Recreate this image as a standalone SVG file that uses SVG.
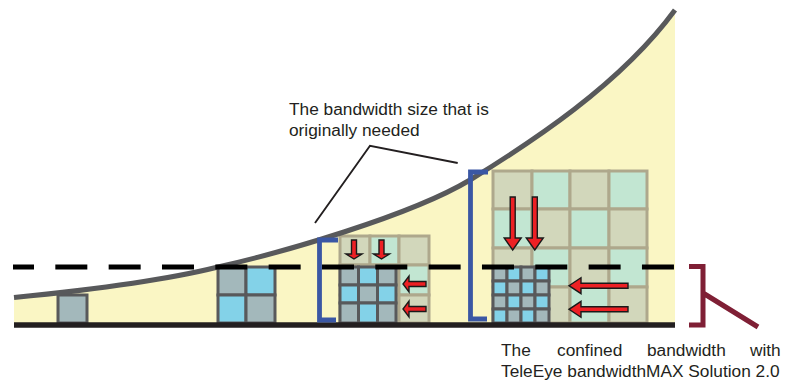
<svg xmlns="http://www.w3.org/2000/svg" width="798" height="381" viewBox="0 0 798 381">
<style>
text{font-family:"Liberation Sans",Arial,sans-serif;font-size:17.300px;fill:#231f20}
.d{fill:#a3b8bb;stroke:#58595b;stroke-width:3}
.b{fill:#83d2e8;stroke:#58595b;stroke-width:3}
.s{fill:#d2d7bb;stroke:#aea88c;stroke-width:3}
.g{fill:#c2e6d2;stroke:#aea88c;stroke-width:3}
.blue{fill:none;stroke:#3a57a4;stroke-width:4.800}
.ar{fill:#ed2024;stroke:#1a1a1a;stroke-width:1.400}
</style>
<defs>
<path id="bigDown" class="ar" d="M-2.500 -53H2.500V-12H8.500L0 0L-8.500 -12H-2.500Z"/>
<path id="smallDown" class="ar" d="M-2.500 -19H2.500V-5H8L0 0L-8 -5H-2.500Z"/>
<path id="bigLeft" class="ar" d="M59 -2.500V2.500H12V8L0 0L12 -8V-2.500Z"/>
<path id="smallLeft" class="ar" d="M23 -2.500V2.500H6V8L0 0L6 -8V-2.500Z"/>
</defs>
<path id="area" fill="#faf6c4" d="M14 297.500C90 290 170 279 218 267C280 253 410 216 470 180C530 143 620 85 675 10V325H14Z"/>
<g id="node-small">
<rect class="d" x="58" y="295" width="29" height="28"/>
</g>
<g id="node-medium">
<rect class="d" x="218" y="267" width="28" height="28"/><rect class="b" x="246" y="267" width="29" height="28"/>
<rect class="b" x="218" y="295" width="28" height="28"/><rect class="d" x="246" y="295" width="29" height="28"/>
</g>
<g id="node-large-original">
<rect class="s" x="340" y="236" width="30" height="29"/><rect class="g" x="370" y="236" width="29" height="29"/><rect class="s" x="399" y="236" width="30" height="29"/>
<rect class="s" x="340" y="265" width="30" height="30"/><rect class="s" x="370" y="265" width="29" height="30"/><rect class="g" x="399" y="265" width="30" height="30"/>
<rect class="s" x="340" y="295" width="30" height="28"/><rect class="s" x="370" y="295" width="29" height="28"/><rect class="s" x="399" y="295" width="30" height="28"/>
</g>
<g id="node-large-confined">
<rect class="d" x="340" y="267" width="18.500" height="18"/><rect class="b" x="358.500" y="267" width="19" height="18"/><rect class="d" x="377.500" y="267" width="18.500" height="18"/>
<rect class="b" x="340" y="285" width="18.500" height="18"/><rect class="d" x="358.500" y="285" width="19" height="18"/><rect class="b" x="377.500" y="285" width="18.500" height="18"/>
<rect class="d" x="340" y="303" width="18.500" height="20"/><rect class="b" x="358.500" y="303" width="19" height="20"/><rect class="d" x="377.500" y="303" width="18.500" height="20"/>
</g>
<g id="node-largest-original">
<rect class="s" x="493" y="171" width="39" height="38"/><rect class="g" x="532" y="171" width="38" height="38"/><rect class="s" x="570" y="171" width="39" height="38"/><rect class="g" x="609" y="171" width="38" height="38"/>
<rect class="g" x="493" y="209" width="39" height="39"/><rect class="s" x="532" y="209" width="38" height="39"/><rect class="g" x="570" y="209" width="39" height="39"/><rect class="s" x="609" y="209" width="38" height="39"/>
<rect class="s" x="493" y="248" width="39" height="39"/><rect class="g" x="532" y="248" width="38" height="39"/><rect class="s" x="570" y="248" width="39" height="39"/><rect class="g" x="609" y="248" width="38" height="39"/>
<rect class="g" x="493" y="287" width="39" height="36"/><rect class="s" x="532" y="287" width="38" height="36"/><rect class="g" x="570" y="287" width="39" height="36"/><rect class="s" x="609" y="287" width="38" height="36"/>
</g>
<g id="node-largest-confined">
<rect class="d" x="493" y="267" width="14" height="14"/><rect class="b" x="507" y="267" width="14" height="14"/><rect class="d" x="521" y="267" width="14" height="14"/><rect class="b" x="535" y="267" width="14" height="14"/>
<rect class="b" x="493" y="281" width="14" height="14"/><rect class="d" x="507" y="281" width="14" height="14"/><rect class="b" x="521" y="281" width="14" height="14"/><rect class="d" x="535" y="281" width="14" height="14"/>
<rect class="d" x="493" y="295" width="14" height="14"/><rect class="b" x="507" y="295" width="14" height="14"/><rect class="d" x="521" y="295" width="14" height="14"/><rect class="b" x="535" y="295" width="14" height="14"/>
<rect class="b" x="493" y="309" width="14" height="14"/><rect class="d" x="507" y="309" width="14" height="14"/><rect class="b" x="521" y="309" width="14" height="14"/><rect class="d" x="535" y="309" width="14" height="14"/>
</g>
<g id="connectors">
<path id="curve" fill="none" stroke="#58595b" stroke-width="5" d="M14 297.500C90 290 170 279 218 267C280 253 410 216 470 180C530 143 620 85 675 10"/>
<path id="baseline" fill="none" stroke="#231f20" stroke-width="5.500" d="M14 325H675"/>
<path id="threshold" fill="none" stroke="#000" stroke-width="5" stroke-dasharray="32 21.330" stroke-dashoffset="11" d="M13 267H675"/>
<path class="blue" d="M338 240H319.500V320H336"/>
<path class="blue" d="M488 172H470.500V319H487"/>
<path fill="none" stroke="#231f20" stroke-width="1.900" d="M457.700 163L370 145.700L315 223"/>
<path fill="none" stroke="#7f1f35" stroke-width="5" d="M689 266.500H703V325H689M703 293L758 327"/>
<use href="#smallDown" x="354" y="259"/><use href="#smallDown" x="381.500" y="259"/>
<use href="#smallLeft" x="403" y="284"/><use href="#smallLeft" x="403" y="309"/>
<use href="#bigDown" x="512.700" y="250"/><use href="#bigDown" x="534.800" y="250"/>
<use href="#bigLeft" x="569" y="285.700"/><use href="#bigLeft" x="569" y="309.300"/>
</g>
<g id="label-original">
<text x="289" y="115">The bandwidth size that is</text>
<text x="289" y="136">originally needed</text>
</g>
<g id="label-confined">
<text y="355.500"><tspan x="501">The</tspan><tspan x="557">confined</tspan><tspan x="647">bandwidth</tspan><tspan x="750">with</tspan></text>
<text x="501" y="376.500">TeleEye bandwidthMAX Solution 2.0</text>
</g>
</svg>
